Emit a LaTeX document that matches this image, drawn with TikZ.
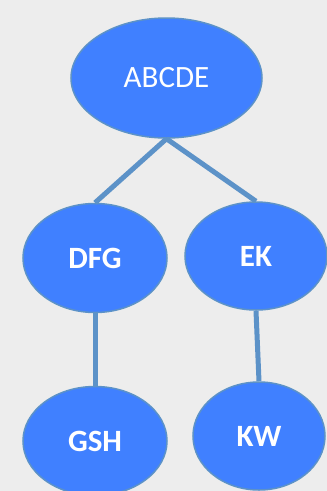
\documentclass[tikz,border=0pt]{standalone}
\usepackage{fontspec}
\setmainfont{Carlito}
\usepackage{tikz}
\usetikzlibrary{shapes.geometric}
\definecolor{bgback}{RGB}{237,237,237}
\definecolor{setfill}{RGB}{64,128,255}
\definecolor{setedge}{RGB}{92,146,200}
\tikzset{
  setbox/.style={ellipse,draw=setedge,line width=1.5pt,fill=setfill,text=white,
    inner sep=0pt,minimum width=144pt,minimum height=109pt,
    font=\fontsize{31}{34}\selectfont\bfseries},
  rootbox/.style={setbox,minimum width=191pt,minimum height=120pt,
    font=\fontsize{31}{34}\selectfont},
  linkline/.style={draw=setedge,line width=5pt}
}
\begin{document}
\begin{tikzpicture}[x=1pt,y=-1pt]
  \fill[bgback] (0,0) rectangle (327,491);
  \useasboundingbox (0,0) rectangle (327,491);
  \clip (0,0) rectangle (327,491);
  \node[rootbox] (top) at (166.5,78) {ABCDE};
  \node[setbox] (dfg) at (95,258) {DFG};
  \node[setbox,minimum width=142pt,minimum height=108pt] (ek) at (256,256) {EK};
  \node[setbox] (gsh) at (95,441) {GSH};
  \node[setbox,minimum width=132pt,minimum height=108pt] (kw) at (259,436) {KW};
  \foreach \a/\b in {top/dfg,top/ek,dfg/gsh,ek/kw}
    \draw[linkline] (\a.south) -- (\b.north);
\end{tikzpicture}
\end{document}
